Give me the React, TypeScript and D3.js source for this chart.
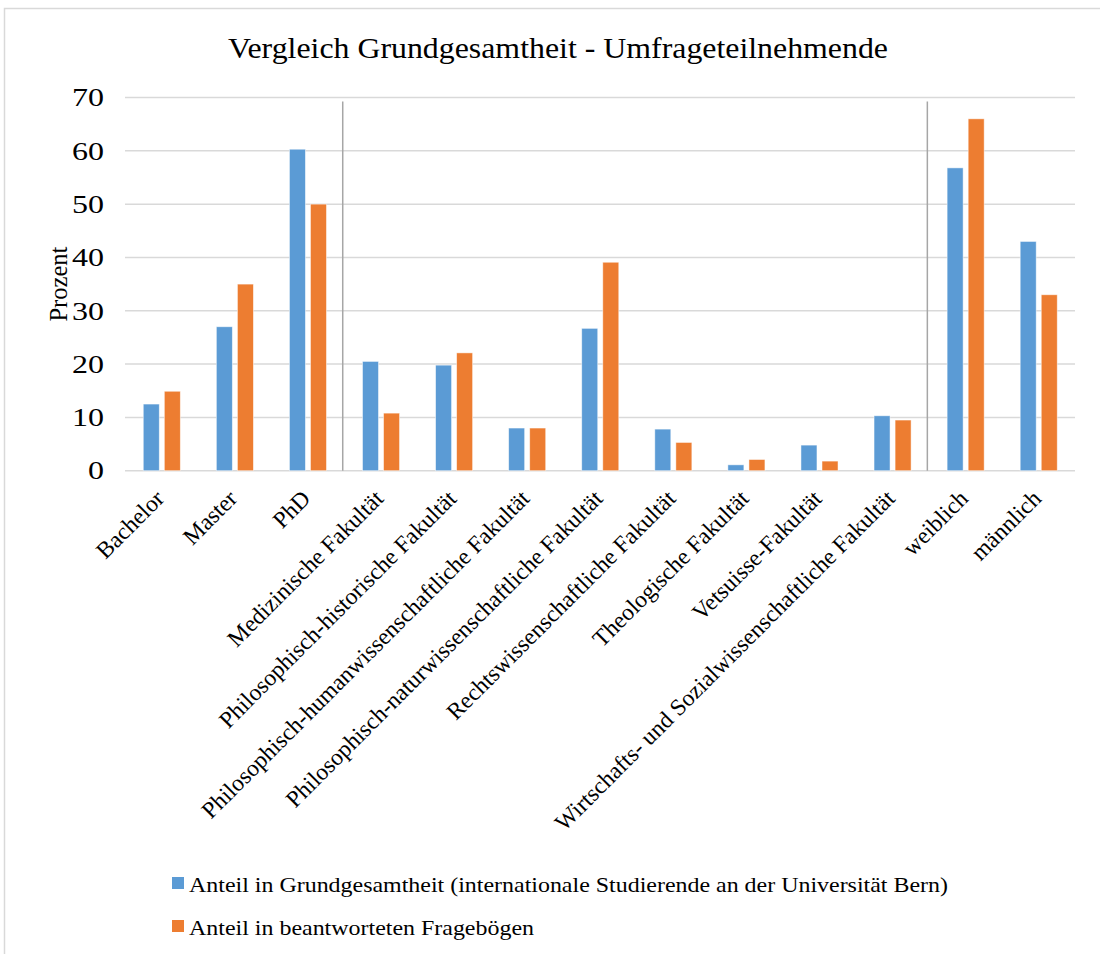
import React from 'react'
import * as d3 from 'd3'

const categories = [
  'Bachelor',
  'Master',
  'PhD',
  'Medizinische Fakultät',
  'Philosophisch-historische Fakultät',
  'Philosophisch-humanwissenschaftliche Fakultät',
  'Philosophisch-naturwissenschaftliche Fakultät',
  'Rechtswissenschaftliche Fakultät',
  'Theologische Fakultät',
  'Vetsuisse-Fakultät',
  'Wirtschafts- und Sozialwissenschaftliche Fakultät',
  'weiblich',
  'männlich',
]
const grundgesamtheit = [12.5, 27, 60.3, 20.5, 19.8, 8.0, 26.7, 7.8, 1.1, 4.8, 10.3, 56.8, 43]
const frageboegen = [14.9, 35, 50, 10.8, 22.1, 8.0, 39.1, 5.3, 2.1, 1.8, 9.5, 66, 33]
const seriesNames = [
  'Anteil in Grundgesamtheit (internationale Studierende an der Universität Bern)',
  'Anteil in beantworteten Fragebögen',
]
const seriesColors = ['#5b9bd5', '#ed7d31']
// categories after which a group separator line is drawn
const separatorsAfter = ['PhD', 'Wirtschafts- und Sozialwissenschaftliche Fakultät']
const yTicks = [0, 10, 20, 30, 40, 50, 60, 70]

const W = 1100
const H = 954
const left = 125
const right = 1075
const top = 97.5
const bottom = 470.7
const font = 'Liberation Serif, serif'
// the original picture is wider than its fonts, so some texts get stretched
const legendLengths = [759, 345]
const digitWidth = 16

export default function App() {
  const x = d3.scaleBand<string>().domain(categories).range([left, right]).padding(0)
  const bw = x.bandwidth()
  const inner = d3
    .scaleBand<number>()
    .domain([0, 1])
    .range([bw * 0.25, bw * 0.757])
    .paddingInner(0.24)
  const y = d3.scaleLinear().domain([0, 70]).range([bottom, top])
  const series = [grundgesamtheit, frageboegen]

  return (
    <svg
      width={W}
      height={H}
      style={{ position: 'absolute', left: 0, top: 0, background: 'white', fontFamily: font }}
    >
      <rect x={4.5} y={8.5} width={W + 20} height={H + 20} fill="white" stroke="#d9d9d9" strokeWidth={1.5} />

      <text x={228} y={58} fontSize={30} fill="#000" textLength={660} lengthAdjust="spacingAndGlyphs">
        Vergleich Grundgesamtheit - Umfrageteilnehmende
      </text>

      {/* gridlines + y labels */}
      {yTicks.map(t => (
        <g key={t}>
          <line x1={left} x2={right} y1={y(t)} y2={y(t)} stroke="#d9d9d9" strokeWidth={1.5} />
          <text
            x={104 - String(t).length * digitWidth}
            y={y(t)}
            dy="0.35em"
            fontSize={25}
            fill="#000"
            textLength={String(t).length * digitWidth}
            lengthAdjust="spacingAndGlyphs"
          >
            {t}
          </text>
        </g>
      ))}

      <text
        transform={`translate(67, ${(top + bottom) / 2}) rotate(-90)`}
        textAnchor="middle"
        fontSize={24.5}
        fill="#000"
      >
        Prozent
      </text>

      {/* separators */}
      {separatorsAfter.map(c => {
        const sx = (x(c) as number) + bw - 1.5
        return <line key={c} x1={sx} x2={sx} y1={101.5} y2={bottom} stroke="#a6a6a6" strokeWidth={1.5} />
      })}

      {/* bars */}
      {series.map((vals, si) =>
        vals.map((v, i) => (
          <rect
            key={si + '-' + i}
            x={(x(categories[i]) as number) + (inner(si) as number)}
            y={y(v)}
            width={inner.bandwidth()}
            height={bottom - y(v)}
            fill={seriesColors[si]}
            stroke="white"
            strokeOpacity={0.6}
            strokeWidth={0.8}
          />
        ))
      )}

      {/* x labels */}
      {categories.map(c => {
        const cx = (x(c) as number) + bw / 2 + 4
        return (
          <text
            key={c}
            transform={`translate(${cx}, 500) rotate(-45)`}
            textAnchor="end"
            fontSize={23.5}
            fill="#000"
          >
            {c}
          </text>
        )
      })}

      {/* legend */}
      {seriesNames.map((n, i) => (
        <g key={n} transform={`translate(172, ${877 + i * 43})`}>
          <rect width={12} height={12} fill={seriesColors[i]} />
          <text
            x={17}
            y={15}
            fontSize={22}
            fill="#000"
            textLength={legendLengths[i]}
            lengthAdjust="spacingAndGlyphs"
          >
            {n}
          </text>
        </g>
      ))}
    </svg>
  )
}
